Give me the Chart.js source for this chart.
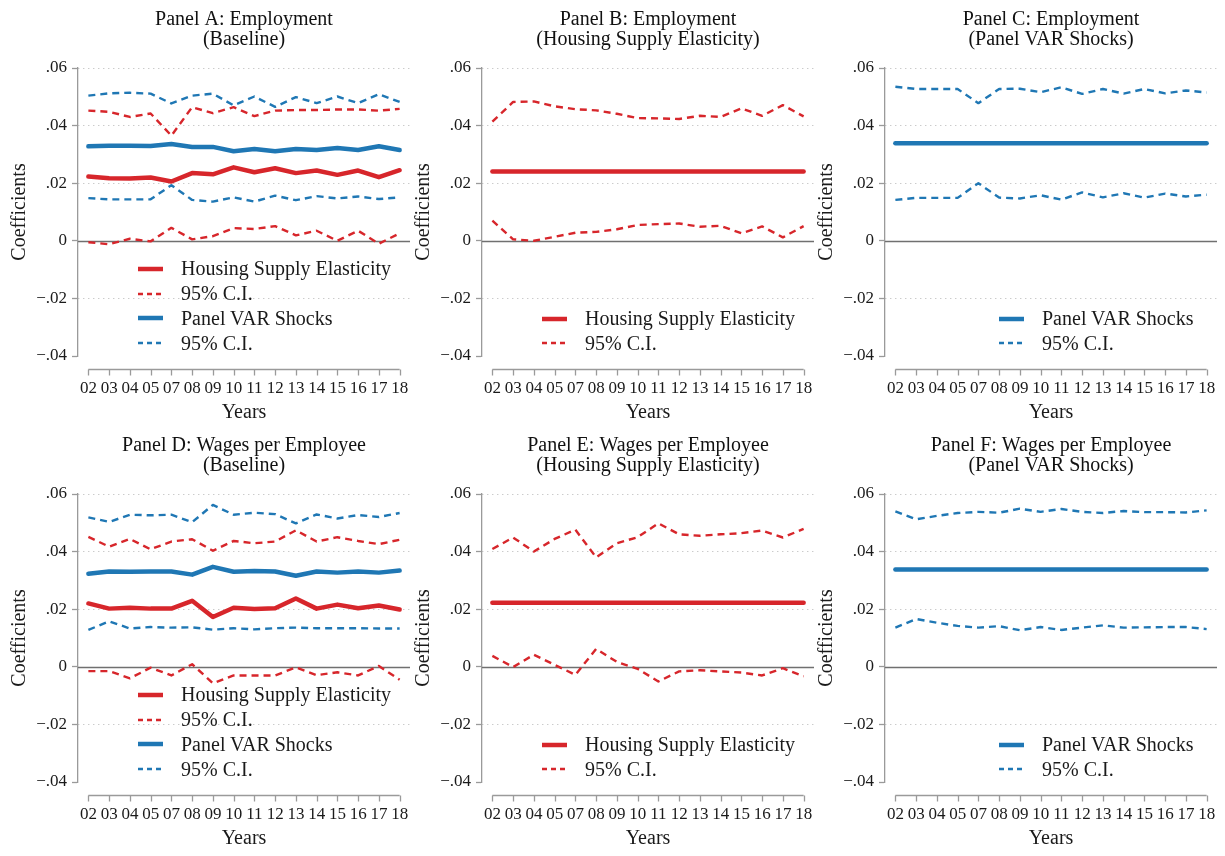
<!doctype html>
<html lang="en">
<head>
<meta charset="utf-8" />
<title>Employment and wages coefficients</title>
<style>
  body { margin: 0; background: #fff; width: 1225px; height: 856px; position: relative; overflow: hidden; }
  .panel { position: absolute; width: 412px; height: 425px; }
  .legend { position: absolute; font-family: "Liberation Serif", "Times New Roman", serif; font-size: 20px; color: #1a1a1a; }
  .legend .row { display: flex; align-items: center; height: 24.7px; white-space: nowrap; }
  .legend svg { margin-right: 18px; }
</style>
<script src="https://cdn.jsdelivr.net/npm/chart.js"></script>
</head>
<body>
<script>
// years on the x axis (no 06)
const years = ['02','03','04','05','07','08','09','10','11','12','13','14','15','16','17','18'];
const yTickLabels = ['\u2212.04', '\u2212.02', '0', '.02', '.04', '.06'];

// Panel A: Employment (Baseline)
const empBaseHse   = [0.0223,0.0217,0.0216,0.0220,0.0206,0.0235,0.0231,0.0255,0.0238,0.0252,0.0235,0.0244,0.0229,0.0244,0.0221,0.0245];
const empBaseHseHi = [0.0452,0.0448,0.0430,0.0442,0.0365,0.0464,0.0443,0.0464,0.0433,0.0452,0.0454,0.0454,0.0456,0.0456,0.0452,0.0458];
const empBaseHseLo = [-0.0005,-0.0012,0.0007,-0.0002,0.0045,0.0005,0.0016,0.0044,0.0041,0.0051,0.0019,0.0035,0.0000,0.0035,-0.0010,0.0026];
const empBaseVar   = [0.0328,0.0330,0.0330,0.0329,0.0336,0.0326,0.0326,0.0311,0.0319,0.0311,0.0319,0.0315,0.0322,0.0315,0.0328,0.0315];
const empBaseVarHi = [0.0504,0.0512,0.0514,0.0511,0.0477,0.0504,0.0511,0.0470,0.0501,0.0465,0.0499,0.0478,0.0501,0.0478,0.0509,0.0482];
const empBaseVarLo = [0.0148,0.0144,0.0144,0.0144,0.0193,0.0142,0.0136,0.0151,0.0136,0.0157,0.0141,0.0155,0.0147,0.0154,0.0145,0.0151];

// Panel B: Employment (Housing Supply Elasticity)
const empHse   = [0.0241,0.0241,0.0241,0.0241,0.0241,0.0241,0.0241,0.0241,0.0241,0.0241,0.0241,0.0241,0.0241,0.0241,0.0241,0.0241];
const empHseHi = [0.0414,0.0482,0.0484,0.0467,0.0457,0.0453,0.0441,0.0426,0.0425,0.0423,0.0434,0.0430,0.0460,0.0434,0.0471,0.0432];
const empHseLo = [0.0070,0.0005,0.0000,0.0014,0.0028,0.0031,0.0040,0.0055,0.0058,0.0060,0.0049,0.0052,0.0026,0.0050,0.0012,0.0051];

// Panel C: Employment (Panel VAR Shocks)
const empVar   = [0.0339,0.0339,0.0339,0.0339,0.0339,0.0339,0.0339,0.0339,0.0339,0.0339,0.0339,0.0339,0.0339,0.0339,0.0339,0.0339];
const empVarHi = [0.0535,0.0527,0.0527,0.0527,0.0478,0.0527,0.0528,0.0516,0.0533,0.0510,0.0527,0.0511,0.0527,0.0512,0.0522,0.0515];
const empVarLo = [0.0142,0.0149,0.0149,0.0149,0.0200,0.0150,0.0147,0.0158,0.0143,0.0168,0.0151,0.0165,0.0150,0.0164,0.0154,0.0160];

// Panel D: Wages per Employee (Baseline)
const wageBaseHse   = [0.0220,0.0202,0.0205,0.0202,0.0202,0.0229,0.0173,0.0205,0.0201,0.0203,0.0237,0.0202,0.0216,0.0203,0.0213,0.0199];
const wageBaseHseHi = [0.0451,0.0417,0.0444,0.0408,0.0435,0.0443,0.0403,0.0437,0.0429,0.0435,0.0474,0.0435,0.0450,0.0437,0.0426,0.0441];
const wageBaseHseLo = [-0.0015,-0.0015,-0.0040,-0.0003,-0.0030,0.0009,-0.0057,-0.0030,-0.0030,-0.0030,-0.0002,-0.0029,-0.0019,-0.0030,0.0003,-0.0045];
const wageBaseVar   = [0.0323,0.0331,0.0330,0.0331,0.0331,0.0320,0.0347,0.0330,0.0333,0.0331,0.0316,0.0331,0.0327,0.0331,0.0327,0.0334];
const wageBaseVarHi = [0.0519,0.0503,0.0528,0.0526,0.0528,0.0502,0.0562,0.0528,0.0535,0.0530,0.0498,0.0529,0.0515,0.0527,0.0520,0.0534];
const wageBaseVarLo = [0.0128,0.0158,0.0133,0.0138,0.0136,0.0137,0.0129,0.0134,0.0130,0.0134,0.0136,0.0134,0.0134,0.0134,0.0133,0.0133];

// Panel E: Wages per Employee (Housing Supply Elasticity)
const wageHse   = [0.0222,0.0222,0.0222,0.0222,0.0222,0.0222,0.0222,0.0222,0.0222,0.0222,0.0222,0.0222,0.0222,0.0222,0.0222,0.0222];
const wageHseHi = [0.0409,0.0449,0.0400,0.0444,0.0476,0.0380,0.0429,0.0450,0.0498,0.0460,0.0455,0.0460,0.0464,0.0473,0.0449,0.0479];
const wageHseLo = [0.0038,-0.0001,0.0042,0.0007,-0.0028,0.0062,0.0017,-0.0007,-0.0051,-0.0016,-0.0012,-0.0016,-0.0020,-0.0030,-0.0005,-0.0033];

// Panel F: Wages per Employee (Panel VAR Shocks)
const wageVar   = [0.0338,0.0338,0.0338,0.0338,0.0338,0.0338,0.0338,0.0338,0.0338,0.0338,0.0338,0.0338,0.0338,0.0338,0.0338,0.0338];
const wageVarHi = [0.0540,0.0512,0.0524,0.0534,0.0538,0.0535,0.0549,0.0538,0.0548,0.0538,0.0534,0.0541,0.0537,0.0537,0.0536,0.0543];
const wageVarLo = [0.0136,0.0166,0.0153,0.0142,0.0136,0.0141,0.0127,0.0138,0.0128,0.0136,0.0144,0.0136,0.0137,0.0138,0.0138,0.0131];

const RED = '#d7262b';
const BLUE = '#1f77b4';
const TXT = '#1a1a1a';
const FONT = '"Liberation Serif", "Times New Roman", serif';

Chart.defaults.font.family = FONT;
Chart.defaults.color = TXT;

// stata-ish look: solid zero line, x axis a little below the plot
const stataAxes = {
  id: 'stataAxes',
  beforeDatasetsDraw(chart) {
    const { ctx, chartArea, scales: { y } } = chart;
    const y0 = Math.round(y.getPixelForValue(0)) + 0.5;
    ctx.save();
    ctx.strokeStyle = '#707070';
    ctx.lineWidth = 1.3;
    ctx.beginPath();
    ctx.moveTo(chartArea.left, y0);
    ctx.lineTo(chartArea.right, y0);
    ctx.stroke();
    ctx.restore();
  },
  afterDraw(chart) {
    const { ctx, chartArea, scales: { x } } = chart;
    const yAx = Math.round(chartArea.bottom + 13) + 0.5;
    const n = x.ticks.length;
    ctx.save();
    ctx.strokeStyle = '#9a9a9a';
    ctx.lineWidth = 1.3;
    ctx.beginPath();
    ctx.moveTo(x.getPixelForTick(0), yAx);
    ctx.lineTo(x.getPixelForTick(n - 1), yAx);
    for (let i = 0; i < n; i++) {
      const px = Math.round(x.getPixelForTick(i)) + 0.5;
      ctx.moveTo(px, yAx);
      ctx.lineTo(px, yAx + 6);
    }
    ctx.stroke();
    ctx.restore();
  }
};

function line(label, data, color, dashed) {
  return {
    label, data,
    borderColor: color,
    backgroundColor: color,
    borderWidth: dashed ? 2.4 : 4.5,
    borderDash: dashed ? [7, 5] : [],
    borderJoinStyle: 'round',
    borderCapStyle: dashed ? 'butt' : 'round',
    pointRadius: 0,
    tension: 0,
    fill: false
  };
}

const hseLegend = [
  { text: 'Housing Supply Elasticity', color: RED, dashed: false },
  { text: '95% C.I.', color: RED, dashed: true }
];
const varLegend = [
  { text: 'Panel VAR Shocks', color: BLUE, dashed: false },
  { text: '95% C.I.', color: BLUE, dashed: true }
];

const panels = [
  { left: 0, top: 0, title: ['Panel A: Employment', '(Baseline)'],
    sets: [line('Housing Supply Elasticity', empBaseHse, RED), line('95% C.I.', empBaseHseHi, RED, true), line('95% C.I.', empBaseHseLo, RED, true),
           line('Panel VAR Shocks', empBaseVar, BLUE), line('95% C.I.', empBaseVarHi, BLUE, true), line('95% C.I.', empBaseVarLo, BLUE, true)],
    legend: hseLegend.concat(varLegend), legLeft: 138, legTop: 256.6 },
  { left: 404, top: 0, title: ['Panel B: Employment', '(Housing Supply Elasticity)'],
    sets: [line('Housing Supply Elasticity', empHse, RED), line('95% C.I.', empHseHi, RED, true), line('95% C.I.', empHseLo, RED, true)],
    legend: hseLegend, legLeft: 138, legTop: 306.4 },
  { left: 807, top: 0, title: ['Panel C: Employment', '(Panel VAR Shocks)'],
    sets: [line('Panel VAR Shocks', empVar, BLUE), line('95% C.I.', empVarHi, BLUE, true), line('95% C.I.', empVarLo, BLUE, true)],
    legend: varLegend, legLeft: 192, legTop: 306.4 },
  { left: 0, top: 426, title: ['Panel D: Wages per Employee', '(Baseline)'],
    sets: [line('Housing Supply Elasticity', wageBaseHse, RED), line('95% C.I.', wageBaseHseHi, RED, true), line('95% C.I.', wageBaseHseLo, RED, true),
           line('Panel VAR Shocks', wageBaseVar, BLUE), line('95% C.I.', wageBaseVarHi, BLUE, true), line('95% C.I.', wageBaseVarLo, BLUE, true)],
    legend: hseLegend.concat(varLegend), legLeft: 138, legTop: 256.6 },
  { left: 404, top: 426, title: ['Panel E: Wages per Employee', '(Housing Supply Elasticity)'],
    sets: [line('Housing Supply Elasticity', wageHse, RED), line('95% C.I.', wageHseHi, RED, true), line('95% C.I.', wageHseLo, RED, true)],
    legend: hseLegend, legLeft: 138, legTop: 306.4 },
  { left: 807, top: 426, title: ['Panel F: Wages per Employee', '(Panel VAR Shocks)'],
    sets: [line('Panel VAR Shocks', wageVar, BLUE), line('95% C.I.', wageVarHi, BLUE, true), line('95% C.I.', wageVarLo, BLUE, true)],
    legend: varLegend, legLeft: 192, legTop: 306.4 }
];

function sample(color, dashed) {
  const dash = dashed ? ' stroke-dasharray="5,4"' : '';
  const w = dashed ? 2.4 : 4.5;
  return '<svg width="25" height="10"><line x1="0" y1="5" x2="25" y2="5" stroke="' + color + '" stroke-width="' + w + '"' + dash + '/></svg>';
}

panels.forEach(p => {
  const div = document.createElement('div');
  div.className = 'panel';
  div.style.left = p.left + 'px';
  div.style.top = p.top + 'px';
  const canvas = document.createElement('canvas');
  div.appendChild(canvas);

  const leg = document.createElement('div');
  leg.className = 'legend';
  leg.style.left = p.legLeft + 'px';
  leg.style.top = p.legTop + 'px';
  leg.innerHTML = p.legend.map(it =>
    '<div class="row">' + sample(it.color, it.dashed) + '<span>' + it.text + '</span></div>').join('');
  div.appendChild(leg);
  document.body.appendChild(div);

  new Chart(canvas.getContext('2d'), {
    type: 'line',
    data: { labels: years, datasets: p.sets },
    options: {
      animation: false,
      responsive: true,
      maintainAspectRatio: false,
      devicePixelRatio: 1,
      layout: { padding: { top: 0, left: 0, right: 2, bottom: 0 } },
      scales: {
        x: {
          type: 'category',
          offset: true,
          // invisible tick marks only push the labels down
          grid: { display: true, drawOnChartArea: false, drawTicks: true, tickLength: 20, tickColor: 'rgba(0,0,0,0)' },
          border: { display: false },
          ticks: { autoSkip: false, maxRotation: 0, minRotation: 0, padding: 2, font: { size: 17 }, color: TXT },
          title: { display: true, text: 'Years', font: { size: 20 }, color: TXT, padding: 0 },
          afterFit: s => { s.height = 69; }
        },
        y: {
          min: -0.04,
          max: 0.06,
          ticks: { stepSize: 0.02, padding: 5, font: { size: 17 }, color: TXT,
                   callback: (v, i) => yTickLabels[i] },
          grid: {
            color: c => (c.tick && (Math.abs(c.tick.value) < 1e-9 || c.tick.value < -0.039)) ? 'rgba(0,0,0,0)' : '#b5b5b5',
            tickColor: '#9a9a9a',
            tickLength: 6,
            tickWidth: 1.3,
            lineWidth: 1
          },
          border: { display: true, color: '#9a9a9a', width: 1.3, dash: [1, 4] },
          title: { display: true, text: 'Coefficients', font: { size: 20 }, color: TXT, padding: { top: 8, bottom: 0 } },
          afterFit: s => { s.width = 78; }
        }
      },
      plugins: {
        legend: { display: false },
        tooltip: { enabled: false },
        title: {
          display: true,
          text: p.title,
          fullSize: false,
          color: '#111',
          font: { size: 20, weight: 'normal', lineHeight: 1.0 },
          padding: { top: 10, bottom: 18 }
        }
      }
    },
    plugins: [stataAxes]
  });
});
</script>
</body>
</html>
